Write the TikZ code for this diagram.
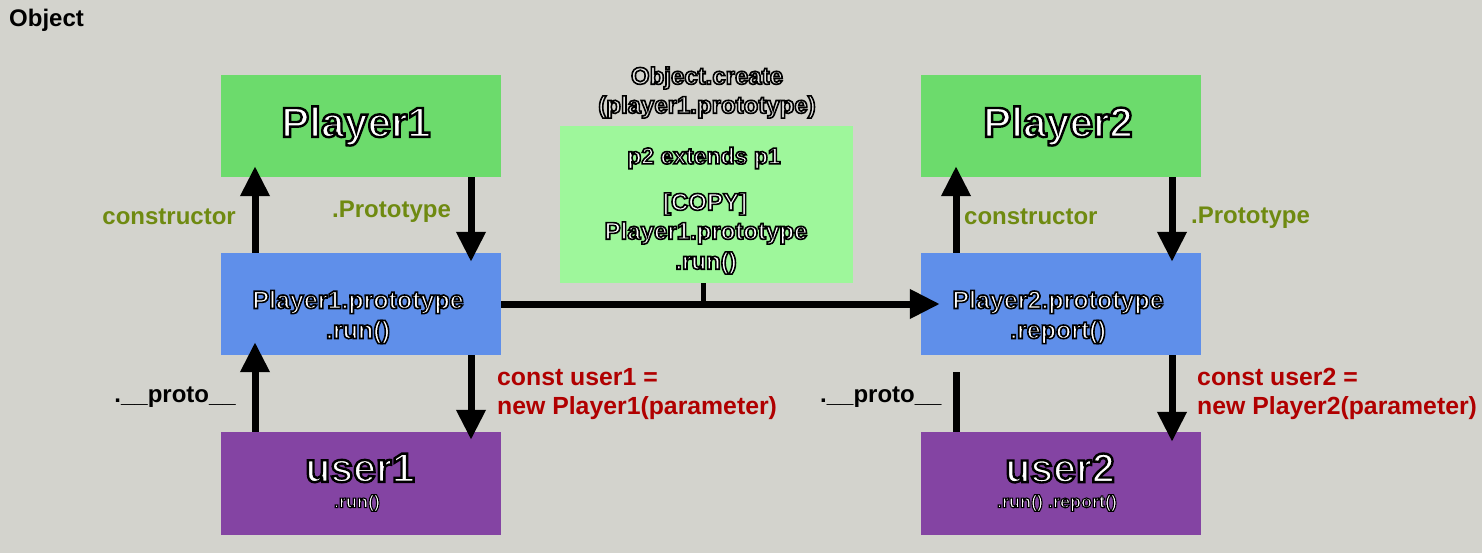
\documentclass[tikz,border=0pt]{standalone}
\usepackage{fontspec}
\setmainfont{Liberation Sans}
\usetikzlibrary{arrows.meta}
\definecolor{bg}{RGB}{211,211,205}
\definecolor{gbx}{RGB}{108,219,108}
\definecolor{lgbx}{RGB}{158,247,155}
\definecolor{bbx}{RGB}{95,143,234}
\definecolor{pbx}{RGB}{132,68,163}
\definecolor{olive}{RGB}{111,138,17}
\definecolor{dred}{RGB}{176,0,0}
\definecolor{ctext}{RGB}{228,228,225}
\newcommand{\ol}[2][1.6]{\special{pdf:literal direct 2 Tr #1 w 0 G}#2\special{pdf:literal direct 0 Tr}}
\tikzset{
  box/.style={minimum width=280pt, inner sep=0pt},
  gbox/.style={box, fill=gbx, minimum height=102pt},
  bbox/.style={box, fill=bbx, minimum height=102pt},
  ubox/.style={box, fill=pbx, minimum height=103pt},
  lbl/.style={inner sep=0pt, font=\bfseries\fontsize{24}{29}\selectfont},
  wlbl/.style={lbl, text=white},
  arr/.style={line width=7pt, -{Triangle[length=30pt,width=28pt]}},
  ln/.style={line width=7pt},
}
\begin{document}
\begin{tikzpicture}[x=1pt,y=-1pt]
\useasboundingbox[fill=bg] (0,0) rectangle (1482,553);
\node[lbl, anchor=west, font=\bfseries\fontsize{24}{26}\selectfont] (title) at (9,20) {Object};

% left column
\node[gbox] (P1) at (361,126) {};
\node[bbox] (P1p) at (361,304) {};
\node[ubox] (U1) at (361,483.5) {};
\node[wlbl, font=\bfseries\fontsize{42}{46}\selectfont] (t1) at (356,126) {\ol[2.4]{Player1}};
\node[wlbl, font=\bfseries\fontsize{25}{29}\selectfont] (t2) at (358,302) {\ol{Player1.prototype}};
\node[wlbl, font=\bfseries\fontsize{25}{29}\selectfont] (t3) at (358,332) {\ol{.run()}};
\node[wlbl, font=\bfseries\fontsize{41}{46}\selectfont] (t4) at (360,468) {\ol[2.4]{user1}};
\node[wlbl, font=\bfseries\fontsize{18}{20}\selectfont] (t5) at (357,503) {\ol[1.1]{.run()}};

% right column
\node[gbox] (P2) at (1061,126) {};
\node[bbox] (P2p) at (1061,304) {};
\node[ubox] (U2) at (1061,483.5) {};
\node[wlbl, font=\bfseries\fontsize{42}{46}\selectfont] (s1) at (1058,126) {\ol[2.4]{Player2}};
\node[wlbl, font=\bfseries\fontsize{25}{29}\selectfont] (s2) at (1058,302) {\ol{Player2.prototype}};
\node[wlbl, font=\bfseries\fontsize{25}{29}\selectfont] (s3) at (1058,332) {\ol{.report()}};
\node[wlbl, font=\bfseries\fontsize{41}{46}\selectfont] (s4) at (1060,468) {\ol[2.4]{user2}};
\node[wlbl, font=\bfseries\fontsize{18}{20}\selectfont] (s5) at (1057,503) {\ol[1.1]{.run() .report()}};

% middle box
\node[fill=lgbx, minimum width=293pt, minimum height=157pt, inner sep=0pt] (M) at (706.5,204.5) {};
\node[wlbl, font=\bfseries\fontsize{23}{26}\selectfont] (m1) at (704,158) {\ol{p2 extends p1}};
\node[wlbl] (m2) at (705,204) {\ol{[COPY]}};
\node[wlbl] (m3) at (706,233) {\ol{Player1.prototype}};
\node[wlbl] (m4) at (706,263) {\ol{.run()}};
\node[lbl, text=ctext] (oc1) at (707,78) {\ol{Object.create}};
\node[lbl, text=ctext] (oc2) at (707,107) {\ol{(player1.prototype)}};

% labels
\node[lbl, text=olive, anchor=east] (c1) at (236,217) {constructor};
\node[lbl, text=olive, anchor=west] (pr1) at (332,212) {.Prototype};
\node[lbl, text=olive, anchor=west] (c2) at (964,217) {constructor};
\node[lbl, text=olive, anchor=west] (pr2) at (1191,218) {.Prototype};
\node[lbl, text=dred, anchor=west, align=left, font=\bfseries\fontsize{24.8}{29}\selectfont] (n1) at (497,394) {const user1 =\\new Player1(parameter)};
\node[lbl, text=dred, anchor=west, align=left, font=\bfseries\fontsize{24.8}{29}\selectfont] (n2) at (1197,394) {const user2 =\\new Player2(parameter)};
\node[lbl, anchor=east] (pt1) at (236,397) {.\_\_proto\_\_};
\node[lbl, anchor=west] (pt2) at (820,397) {.\_\_proto\_\_};

% connectors left
\draw[arr] ([xshift=-106pt]P1p.north) -- ([xshift=-106pt,yshift=11pt]P1.south);
\draw[arr] ([xshift=110pt]P1.south) -- ([xshift=110pt,yshift=-9pt]P1p.north);
\draw[arr] ([xshift=-106pt]U1.north) -- ([xshift=-106pt,yshift=13pt]P1p.south);
\draw[arr] ([xshift=110pt]P1p.south) -- ([xshift=110pt,yshift=-8pt]U1.north);
% connectors right
\draw[arr] ([xshift=-105pt]P2p.north) -- ([xshift=-105pt,yshift=11pt]P2.south);
\draw[arr] ([xshift=111pt]P2.south) -- ([xshift=111pt,yshift=-9pt]P2p.north);
\draw[ln] ([xshift=-105pt]U2.north) -- ([xshift=-105pt,yshift=-17pt]P2p.south);
\draw[arr] ([xshift=111pt]P2p.south) -- ([xshift=111pt,yshift=-10pt]U2.north);
% horizontal
\draw[arr] (P1p.east) -- ([xshift=19pt]P2p.west);
\draw[line width=5pt] ([xshift=-3pt]M.south) -- ([xshift=-3pt]M.south |- P1p.east);
\end{tikzpicture}
\end{document}
